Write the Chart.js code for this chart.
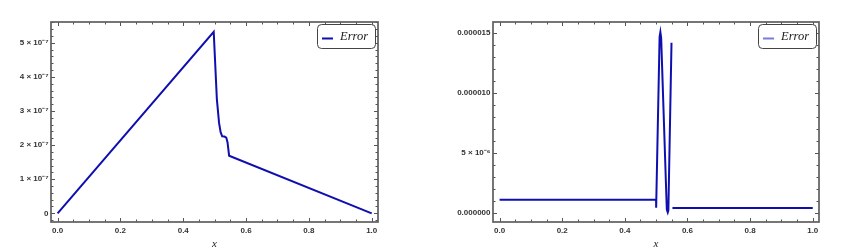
<!DOCTYPE html>
<html>
<head>
<meta charset="utf-8">
<script src="https://cdn.jsdelivr.net/npm/chart.js@4.4.1/dist/chart.umd.min.js"></script>
<style>
  html, body { margin: 0; padding: 0; background: #fff; width: 843px; height: 252px; overflow: hidden; }
  .panel { position: absolute; top: 0; height: 252px; }
  #p1 { left: 0; width: 400px; }
  #p2 { left: 457px; width: 386px; }
</style>
</head>
<body>
<div class="panel" id="p1"><canvas id="c1"></canvas></div>
<div class="panel" id="p2"><canvas id="c2"></canvas></div>
<script>
// left panel: error curve
const xs1 = [0, 0.497, 0.507, 0.514, 0.519, 0.524, 0.531, 0.537, 0.541, 0.546, 1];
const ys1 = [0, 5.32e-7, 3.35e-7, 2.65e-7, 2.38e-7, 2.26e-7, 2.25e-7, 2.22e-7, 2.08e-7, 1.69e-7, 0];
const yTicks1 = [0, 1e-7, 2e-7, 3e-7, 4e-7, 5e-7];
const yLabels1 = ["0", "1 × 10⁻⁷", "2 × 10⁻⁷", "3 × 10⁻⁷", "4 × 10⁻⁷", "5 × 10⁻⁷"];

// right panel: error curve (null = break in the line)
const xs2 = [0, 0.4998, 0.5, 0.511, 0.5135, 0.516, 0.534, 0.537, 0.539, 0.549, null, 0.552, 1];
const ys2 = [1.08e-6, 1.08e-6, 0.42e-6, 14.7e-6, 15.1e-6, 14.6e-6, 0.25e-6, 0.02e-6, 0.2e-6, 14.2e-6, null, 0.38e-6, 0.38e-6];
const yTicks2 = [0, 5e-6, 1e-5, 1.5e-5];
const yLabels2 = ["0.000000", "5 × 10⁻⁶", "0.000010", "0.000015"];

const xTicks = [0, 0.2, 0.4, 0.6, 0.8, 1.0];
const xLabels = ["0.0", "0.2", "0.4", "0.6", "0.8", "1.0"];
const seriesName = "Error";

const lineColor = "#0f0fb0";
const tickFont = { family: "Liberation Sans, Arial, sans-serif", size: 8, weight: "bold" };

// frame with inward ticks on all four sides
const frameTicks = {
  id: "frameTicks",
  beforeDatasetsDraw(chart, args, o) {
    const { ctx, chartArea: a, scales: { x, y } } = chart;
    ctx.save();
    ctx.strokeStyle = "#555";
    ctx.lineWidth = 1;
    const xt = (v, len) => {
      const p = Math.round(x.getPixelForValue(v)) + 0.5;
      if (p < a.left || p > a.right) return;
      ctx.beginPath();
      ctx.moveTo(p, a.bottom); ctx.lineTo(p, a.bottom - len);
      ctx.moveTo(p, a.top); ctx.lineTo(p, a.top + len);
      ctx.stroke();
    };
    const yt = (v, len) => {
      const p = Math.round(y.getPixelForValue(v)) + 0.5;
      if (p < a.top || p > a.bottom) return;
      ctx.beginPath();
      ctx.moveTo(a.left, p); ctx.lineTo(a.left + len, p);
      ctx.moveTo(a.right, p); ctx.lineTo(a.right - len, p);
      ctx.stroke();
    };
    for (let i = -1; i <= 21; i++) xt(i * 0.05, i % 4 === 0 ? 4 : 2.5);
    for (let i = -2; i <= 40; i++) {
      const v = i * o.yMinor;
      yt(v, Math.abs(v / o.yMajor - Math.round(v / o.yMajor)) < 1e-6 ? 4 : 2.5);
    }
    ctx.lineWidth = 1.7;
    ctx.strokeStyle = "#5e5e5e";
    ctx.strokeRect(a.left, a.top, a.right - a.left, a.bottom - a.top);
    ctx.restore();
  }
};

// legend box in top-right corner of the plot area
const boxLegend = {
  id: "boxLegend",
  afterDraw(chart, args, o) {
    const { ctx, chartArea: a } = chart;
    const w = 58, h = 24;
    const bx = a.right - 3 - w, by = a.top + 2;
    ctx.save();
    ctx.fillStyle = "#fff";
    ctx.strokeStyle = "#444";
    ctx.lineWidth = 1;
    ctx.beginPath();
    ctx.roundRect(bx + 0.5, by + 0.5, w, h, 4);
    ctx.fill();
    ctx.stroke();
    ctx.strokeStyle = o.color;
    ctx.lineWidth = 2;
    ctx.beginPath();
    ctx.moveTo(bx + 5, by + 14.5);
    ctx.lineTo(bx + 16, by + 14.5);
    ctx.stroke();
    ctx.fillStyle = "#1a1a1a";
    ctx.font = "italic 12.5px 'Liberation Serif', 'Times New Roman', serif";
    ctx.textBaseline = "middle";
    ctx.fillText(seriesName, bx + 23, by + 13);
    ctx.restore();
  }
};

function makeChart(id, xs, ys, yTicks, yLabels, yMin, yMax, yWidth, padRight, yMinor, yMajor, legendColor) {
  const pts = xs.map((v, i) => (v === null ? { x: null, y: null } : { x: v, y: ys[i] }));
  return new Chart(document.getElementById(id), {
    type: "line",
    data: {
      datasets: [{
        label: seriesName,
        data: pts,
        borderColor: lineColor,
        borderWidth: 2,
        pointRadius: 0,
        tension: 0,
        spanGaps: false,
        fill: false
      }]
    },
    options: {
      responsive: true,
      maintainAspectRatio: false,
      animation: false,
      layout: { padding: { top: 22, right: padRight, left: 0, bottom: 0 } },
      plugins: {
        legend: { display: false },
        tooltip: { enabled: false },
        frameTicks: { yMinor: yMinor, yMajor: yMajor },
        boxLegend: { color: legendColor }
      },
      scales: {
        x: {
          type: "linear",
          min: -0.021,
          max: 1.02,
          grid: { display: false, drawTicks: false },
          border: { display: false },
          afterBuildTicks: s => { s.ticks = xTicks.map(v => ({ value: v })); },
          afterFit: s => { s.height = 30; },
          ticks: {
            autoSkip: false, maxRotation: 0, padding: 4,
            color: "#333", font: tickFont,
            callback: (v, i) => xLabels[i]
          },
          title: {
            display: true, text: "x", color: "#222", padding: { top: 0, bottom: 1.5 },
            font: { family: "Liberation Serif, serif", size: 11, style: "italic" }
          }
        },
        y: {
          type: "linear",
          min: yMin,
          max: yMax,
          grid: { display: false, drawTicks: false },
          border: { display: false },
          afterBuildTicks: s => { s.ticks = yTicks.map(v => ({ value: v })); },
          afterFit: s => { s.width = yWidth; },
          ticks: {
            autoSkip: false, padding: 2.5,
            color: "#333", font: tickFont,
            callback: (v, i) => yLabels[i]
          }
        }
      }
    },
    plugins: [frameTicks, boxLegend]
  });
}

makeChart("c1", xs1, ys1, yTicks1, yLabels1, -0.255e-7, 5.61e-7, 51, 22, 2e-8, 1e-7, lineColor);
makeChart("c2", xs2, ys2, yTicks2, yLabels2, -0.78e-6, 15.94e-6, 36, 24, 1e-6, 5e-6, "#7b7bd8");
</script>
</body>
</html>
